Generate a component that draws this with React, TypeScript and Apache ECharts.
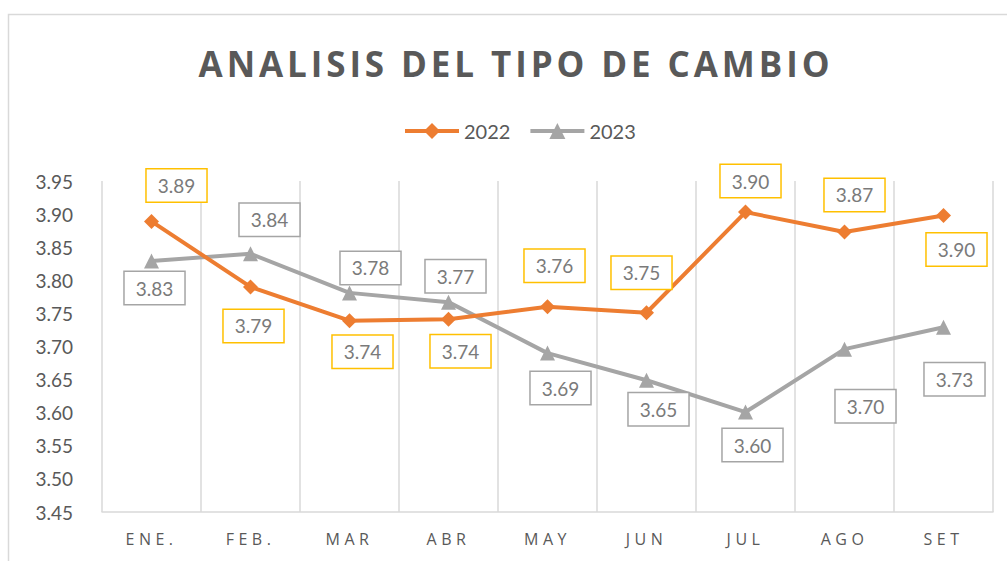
import React, { useEffect, useRef } from "react";
import * as echarts from "echarts";

const titleText = "ANALISIS DEL TIPO DE CAMBIO";
const categories = ["ENE.", "FEB.", "MAR", "ABR", "MAY", "JUN", "JUL", "AGO", "SET"];
const values2022 = [3.889, 3.79, 3.739, 3.741, 3.76, 3.751, 3.903, 3.873, 3.898];
const values2023 = [3.829, 3.84, 3.781, 3.767, 3.69, 3.649, 3.601, 3.696, 3.729];
const yTicks = { min: 3.45, max: 3.95, interval: 0.05 };

// label placement offsets (layout only)
const offsets2022 = [[25, -36], [3, 39], [13, 31], [12, 32], [7, -41], [-5, -40], [5, -31], [10, -37], [13, 34]];
const offsets2023 = [[3, 27], [19, -34], [21, -25], [7, -26], [13, 35], [12, 29], [7, 33], [21, 57], [11, 52]];

const FONT = "Lato, 'Open Sans', sans-serif";
const OPEN = "'Open Sans', Lato, sans-serif";

function buildData(values: number[], offsets: number[][], border: string) {
  return values.map((v, i) => ({
    value: v,
    label: {
      show: true,
      position: "inside",
      offset: offsets[i],
      formatter: (p: any) => Number(p.value).toFixed(2),
      fontSize: 19,
      fontFamily: FONT,
      color: "#7a7a7a",
      backgroundColor: "#ffffff",
      borderColor: border,
      borderWidth: 1.5,
      padding: [7, 11, 6, 11],
      align: "center",
      verticalAlign: "middle",
    },
  }));
}

export default function App() {
  const ref = useRef<HTMLDivElement>(null);
  useEffect(() => {
    document.body.style.margin = "0";
    if (!ref.current) return;
    const chart = echarts.init(ref.current, null, { renderer: "svg" });
    chart.setOption({
      animation: false,
      backgroundColor: "#ffffff",
      graphic: [
        {
          type: "rect",
          shape: { x: 8.5, y: 14.5, width: 1020, height: 580 },
          style: { fill: "none", stroke: "#D9D9D9", lineWidth: 1.5 },
          silent: true,
          z: -10,
        },
        {
          type: "text",
          x: 516,
          y: 63,
          silent: true,
          style: {
            text: titleText,
            textAlign: "center",
            textVerticalAlign: "middle",
            fontSize: 35,
            fontWeight: "bold",
            fontFamily: OPEN,
            fill: "#595959",
          },
        },
      ],
      legend: {
        top: 116,
        left: 398,
        itemWidth: 54,
        itemHeight: 20,
        itemGap: 18,
        lineStyle: { width: 4 },
        textStyle: { fontSize: 20, color: "#595959", fontFamily: FONT },
        data: ["2022", "2023"],
      },
      grid: { left: 102, right: 14, top: 181, bottom: 49, containLabel: false },
      xAxis: {
        type: "category",
        data: categories,
        boundaryGap: true,
        axisLine: { show: true, lineStyle: { color: "#D9D9D9", width: 1.5 } },
        axisTick: { show: false },
        splitLine: { show: true, lineStyle: { color: "#D9D9D9", width: 1.5 } },
        axisLabel: { fontSize: 16, color: "#595959", fontFamily: OPEN, margin: 19 },
      },
      yAxis: {
        type: "value",
        min: yTicks.min,
        max: yTicks.max,
        interval: yTicks.interval,
        axisLine: { show: false },
        axisTick: { show: false },
        splitLine: { show: false },
        axisLabel: {
          fontSize: 19,
          color: "#595959",
          fontFamily: FONT,
          margin: 29,
          formatter: (v: number) => v.toFixed(2),
        },
      },
      series: [
        {
          name: "2022",
          type: "line",
          data: buildData(values2022, offsets2022, "#FFC000"),
          symbol: "diamond",
          symbolSize: 15,
          lineStyle: { color: "#ED7D31", width: 4 },
          itemStyle: { color: "#ED7D31" },
          z: 3,
        },
        {
          name: "2023",
          type: "line",
          data: buildData(values2023, offsets2023, "#A5A5A5"),
          symbol: "triangle",
          symbolSize: 15,
          lineStyle: { color: "#A5A5A5", width: 4 },
          itemStyle: { color: "#A5A5A5" },
          z: 2,
        },
      ],
    });
    const texts = ref.current.querySelectorAll("text");
    texts.forEach((t) => {
      const s = t.textContent || "";
      if (s === titleText) {
        t.style.letterSpacing = "3.9px";
      } else if (categories.includes(s)) {
        t.style.letterSpacing = "4.5px";
      }
    });
    return () => chart.dispose();
  }, []);
  return <div ref={ref} style={{ width: 1007, height: 561 }} />;
}
